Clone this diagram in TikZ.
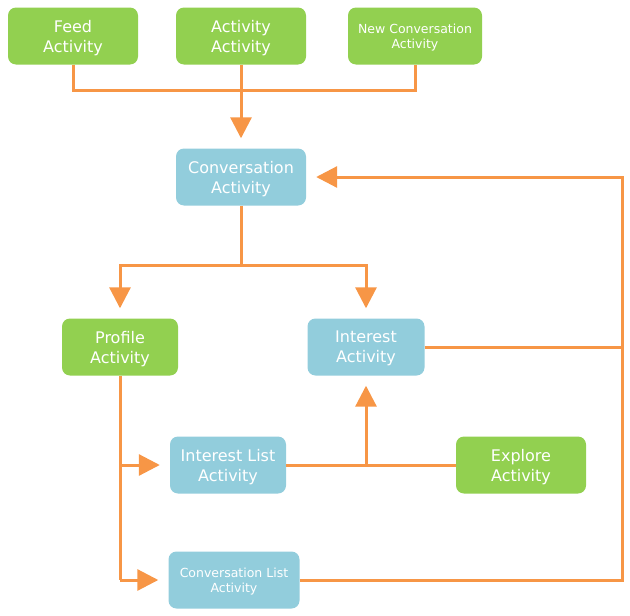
\documentclass[tikz,border=0pt]{standalone}
\usepackage{fontspec}
\setmainfont{DejaVu Sans}
\usetikzlibrary{arrows.meta}
\definecolor{actgreen}{HTML}{92D050}
\definecolor{actblue}{HTML}{92CDDC}
\definecolor{linkorange}{HTML}{F79646}

\begin{document}
\begin{tikzpicture}[x=1pt, y=-1pt,
  box/.style={rounded corners=8pt, text=white, align=center, inner sep=2pt,
    text depth=0pt, minimum height=57pt, font=\fontsize{16}{20}\selectfont},
  greenbox/.style={box, fill=actgreen},
  bluebox/.style={box, fill=actblue},
  small/.style={font=\fontsize{12.5}{15.5}\selectfont},
  link/.style={draw=linkorange, line width=3pt},
  arrow/.style={link, -{Triangle[length=21pt, width=21pt]}, shorten >=10pt}]

\useasboundingbox (0,0) rectangle (630,616);

% Top row
\node[greenbox, minimum width=130pt] (feed) at (73,36) {Feed\\Activity};
\node[greenbox, minimum width=130pt] (actact) at (241,36) {Activity\\Activity};
\node[greenbox, small, minimum width=134pt] (newconv) at (415,36) {New Conversation\\Activity};

% Middle
\node[bluebox, minimum width=130pt] (conv) at (241,177) {Conversation\\Activity};
\node[greenbox, minimum width=116pt] (profile) at (120,347) {Profile\\Activity};
\node[bluebox, minimum width=117pt] (interest) at (366,347) {Interest\\Activity};

% Bottom
\node[bluebox, minimum width=116pt] (intlist) at (228,465) {Interest List\\Activity};
\node[greenbox, minimum width=130pt] (explore) at (521,465) {Explore\\Activity};
\node[bluebox, small, minimum width=131pt] (convlist) at (234,580) {Conversation List\\Activity};

% Junction points
\coordinate (join) at (241,90);
\coordinate (split) at (241,265);
\coordinate (back) at (622,177);

% Lines into Conversation Activity
\draw[link] (feed.south) |- (join) -| (newconv.south);
\draw[arrow] (actact.south) -- (conv.north);

% Conversation to Profile / Interest
\draw[link] (conv.south) -- (split);
\draw[arrow] (split) -| (profile.north);
\draw[arrow] (split) -| (interest.north);

% Profile to the list activities
\draw[link] (profile.south) -- (profile.south |- convlist.west);
\draw[arrow] (profile.south |- intlist.west) -- (intlist.west);
\draw[arrow] (profile.south |- convlist.west) -- (convlist.west);

% Interest List / Explore to Interest
\draw[link] (intlist.east) -- (explore.west);
\draw[arrow] (interest.south |- intlist.east) -- (interest.south);

% Back to Conversation Activity
\draw[link] (interest.east) -- (interest.east -| back);
\draw[arrow] (convlist.east) -| (back) -- (conv.east);

\end{tikzpicture}
\end{document}
